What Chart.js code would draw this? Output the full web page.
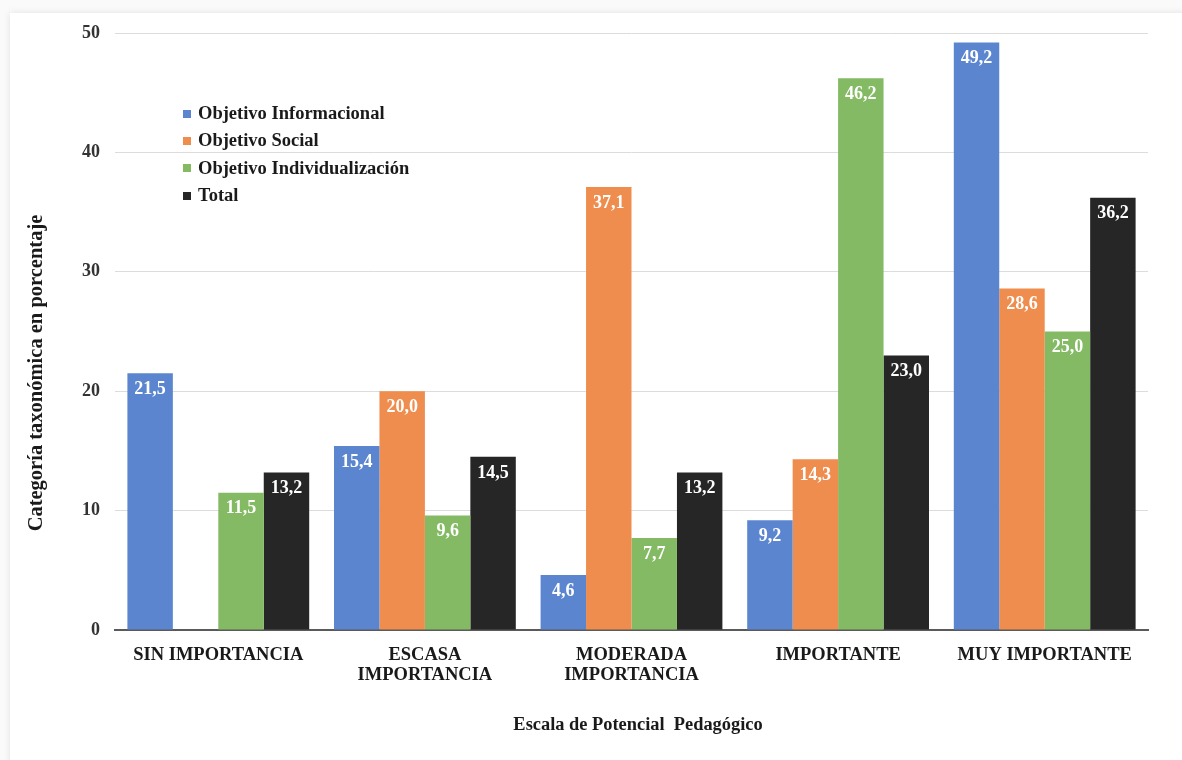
<!DOCTYPE html>
<html lang="es">
<head>
<meta charset="utf-8">
<title>Escala de Potencial Pedagógico</title>
<script src="https://cdn.jsdelivr.net/npm/chart.js@4.4.1/dist/chart.umd.min.js"></script>
<style>
  html, body { margin: 0; padding: 0; background: #fafafa; width: 1182px; height: 760px; overflow: hidden; }
  #card {
    position: absolute; left: 10px; top: 13px; width: 1190px; height: 760px;
    background: #ffffff; box-shadow: 0 0 7px rgba(0,0,0,0.10);
  }
  #wrap { position: absolute; left: 0; top: 0; width: 1182px; height: 760px; }
  #legend {
    position: absolute; left: 183px; top: 100px; margin: 0; padding: 0; list-style: none;
    font-family: "Liberation Serif", "Times New Roman", serif; font-weight: bold; font-size: 18.5px; color: #1a1a1a;
  }
  #legend li { height: 27.3px; line-height: 27.3px; display: flex; align-items: center; }
  #legend span.box { display: inline-block; width: 8px; height: 8px; margin-right: 7px; }
</style>
</head>
<body>
<div id="card"></div>
<div id="wrap"><canvas id="chart" width="1182" height="760"></canvas></div>
<ul id="legend"></ul>
<script>
// Categories of the pedagogical potential scale
const categories = [
  ["SIN IMPORTANCIA"],
  ["ESCASA", "IMPORTANCIA"],
  ["MODERADA", "IMPORTANCIA"],
  ["IMPORTANTE"],
  ["MUY IMPORTANTE"]
];

// Percentages per objective (null = no bar)
const informacional     = [21.5, 15.4, 4.6, 9.2, 49.2];
const social            = [null, 20.0, 37.1, 14.3, 28.6];
const individualizacion = [11.5, 9.6, 7.7, 46.2, 25.0];
const total             = [13.2, 14.5, 13.2, 23.0, 36.2];

const seriesNames = ["Objetivo Informacional", "Objetivo Social", "Objetivo Individualización", "Total"];
const seriesColors = ["#5b86cf", "#ee8d4d", "#83ba63", "#262626"];

const yTicks = [0, 10, 20, 30, 40, 50];

const yTitle = "Categoría taxonómica en porcentaje";
const xTitle = "Escala de Potencial  Pedagógico";

const SERIF = '"Liberation Serif", "Times New Roman", serif';

// Value labels written inside the top of each bar
const barValueLabels = {
  id: 'barValueLabels',
  afterDatasetsDraw(chart) {
    const ctx = chart.ctx;
    ctx.save();
    ctx.font = 'bold 18px ' + SERIF;
    ctx.fillStyle = '#ffffff';
    ctx.textAlign = 'center';
    ctx.textBaseline = 'middle';
    chart.data.datasets.forEach((ds, i) => {
      const meta = chart.getDatasetMeta(i);
      meta.data.forEach((bar, j) => {
        const v = ds.data[j];
        if (v === null || v === undefined) return;
        const txt = v.toFixed(1).replace('.', ',');
        ctx.fillText(txt, bar.x, bar.y + 16);
      });
    });
    ctx.restore();
  }
};

// Axis titles placed freely around the plot
const axisTitles = {
  id: 'axisTitles',
  afterDraw(chart) {
    const ctx = chart.ctx;
    ctx.save();
    ctx.fillStyle = '#1a1a1a';
    ctx.textAlign = 'center';
    ctx.textBaseline = 'middle';
    ctx.font = 'bold 18.4px ' + SERIF;
    ctx.fillText(xTitle, 638, 725);
    ctx.translate(37, 373);
    ctx.rotate(-Math.PI / 2);
    ctx.font = 'bold 20.5px ' + SERIF;
    ctx.fillText(yTitle, 0, 0);
    ctx.restore();
  }
};

const seriesData = [informacional, social, individualizacion, total];

const chart = new Chart(document.getElementById('chart'), {
  type: 'bar',
  data: {
    labels: categories,
    datasets: seriesNames.map((name, i) => ({
      label: name,
      data: seriesData[i],
      backgroundColor: seriesColors[i],
      borderWidth: 0,
      categoryPercentage: 0.88,
      barPercentage: 1.0
    }))
  },
  options: {
    responsive: false,
    animation: false,
    layout: { padding: { left: 0, top: 33, right: 34, bottom: 30 } },
    plugins: {
      legend: { display: false },
      tooltip: { enabled: false }
    },
    scales: {
      x: {
        grid: { display: false, drawTicks: false },
        border: { display: true, color: '#5a5a5a', width: 2 },
        ticks: {
          color: '#1a1a1a',
          font: { family: SERIF, weight: 'bold', size: 18.5, lineHeight: 1.05 },
          padding: 16,
          maxRotation: 0,
          autoSkip: false
        },
        afterFit(scale) { scale.height = 100; }
      },
      y: {
        min: 0,
        max: 50,
        afterBuildTicks(scale) { scale.ticks = yTicks.map(v => ({ value: v })); },
        grid: { color: '#dcdcdc', lineWidth: 1, drawTicks: false },
        border: { display: false },
        ticks: {
          color: '#333333',
          font: { family: SERIF, weight: 'bold', size: 18 },
          padding: 15
        },
        afterFit(scale) { scale.width = 115; }
      }
    }
  },
  plugins: [barValueLabels, axisTitles]
});

// Vertical legend built from the datasets
const legendEl = document.getElementById('legend');
chart.data.datasets.forEach(ds => {
  const li = document.createElement('li');
  const box = document.createElement('span');
  box.className = 'box';
  box.style.background = ds.backgroundColor;
  li.appendChild(box);
  li.appendChild(document.createTextNode(ds.label));
  legendEl.appendChild(li);
});
</script>
</body>
</html>
